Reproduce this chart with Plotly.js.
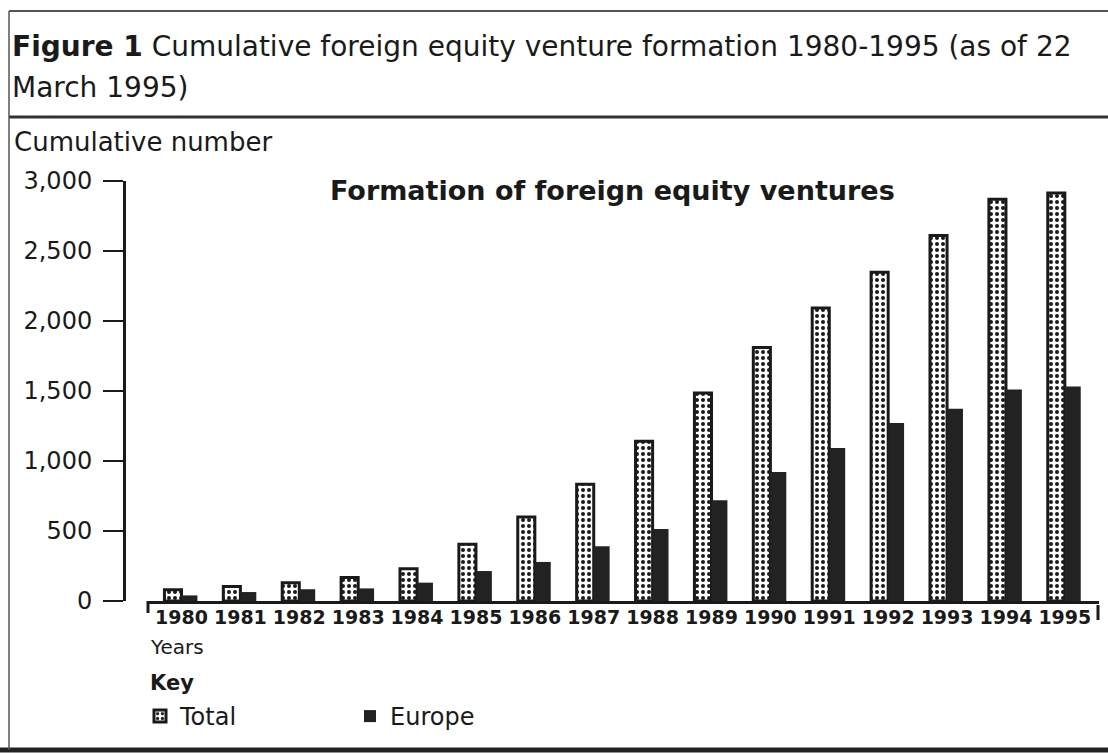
<!DOCTYPE html>
<html>
<head>
<meta charset="utf-8">
<script src="https://cdn.plot.ly/plotly-3.0.1.min.js"></script>
<style>
html,body{margin:0;padding:0;background:#fff;}
#chart{width:1108px;height:753px;}
</style>
</head>
<body>
<div id="chart"></div>
<script>
const years = ["1980","1981","1982","1983","1984","1985","1986","1987","1988","1989","1990","1991","1992","1993","1994","1995"];
const totalValues = [81, 104, 131, 167, 231, 405, 600, 834, 1141, 1486, 1810, 2093, 2348, 2610, 2869, 2914];
const europeValues = [40, 64, 84, 90, 131, 214, 279, 391, 514, 719, 921, 1093, 1271, 1374, 1510, 1533];
const yTicks = [0, 500, 1000, 1500, 2000, 2500, 3000];
const seriesNames = ["Total", "Europe"];

const W = 1108, H = 753;
const L = 124, R = 9, T = 181, B = 152;
const pw = W - L - R, ph = H - T - B;
const px = x => (x - L) / pw;
const py = y => (H - B - y) / ph;

const traces = [
  {
    type: 'bar', name: seriesNames[0], x: years, y: totalValues,
    offset: -0.29, width: 0.29,
    marker: {color: '#ffffff', line: {color: '#1a1a1a', width: 3},
             pattern: {shape: '.', fgcolor: '#1a1a1a', bgcolor: '#ffffff', size: 6, solidity: 0.35}},
    hoverinfo: 'x+y'
  },
  {
    type: 'bar', name: seriesNames[1], x: years, y: europeValues,
    offset: 0, width: 0.27,
    marker: {color: '#222222', line: {color: '#222222', width: 0}},
    hoverinfo: 'x+y'
  }
];

const fontMain = 'DejaVu Sans, Verdana, sans-serif';
const layout = {
  width: W, height: H,
  margin: {l: L, r: R, t: T, b: B, pad: 0},
  paper_bgcolor: '#ffffff', plot_bgcolor: '#ffffff',
  showlegend: true,
  barmode: 'overlay',
  legend: {
    orientation: 'h', x: px(140), xanchor: 'left', y: py(694), yanchor: 'top',
    entrywidth: 165, entrywidthmode: 'pixels',
    font: {family: fontMain, size: 24, color: '#1a1a1a'},
    bgcolor: 'rgba(0,0,0,0)', itemclick: false
  },
  xaxis: {
    type: 'category', domain: [px(148), 1], range: [-0.569, 15.58],
    showline: true, linecolor: '#1a1a1a', linewidth: 3,
    ticks: '', showgrid: false, zeroline: false, tickangle: 0,
    tickfont: {family: fontMain, size: 19, color: '#1a1a1a', weight: 'bold'},
    ticklabelstandoff: -3
  },
  yaxis: {
    anchor: 'free', position: 0, range: [0, 3000],
    tickvals: yTicks, tickformat: ',d',
    showline: true, linecolor: '#1a1a1a', linewidth: 3,
    ticks: 'outside', ticklen: 20, tickwidth: 2, tickcolor: '#1a1a1a',
    showgrid: false, zeroline: false,
    tickfont: {family: fontMain, size: 24, color: '#1a1a1a'},
    ticklabelstandoff: 6
  },
  annotations: [
    {xref: 'paper', yref: 'paper', x: px(10), y: py(46), xanchor: 'left', yanchor: 'middle', showarrow: false,
     text: '<b>Figure 1</b> Cumulative foreign equity venture formation 1980-1995 (as of 22',
     font: {family: fontMain, size: 28, color: '#1a1a1a'}},
    {xref: 'paper', yref: 'paper', x: px(10), y: py(88), xanchor: 'left', yanchor: 'middle', showarrow: false,
     text: 'March 1995)',
     font: {family: fontMain, size: 28, color: '#1a1a1a'}},
    {xref: 'paper', yref: 'paper', x: px(12), y: py(142), xanchor: 'left', yanchor: 'middle', showarrow: false,
     text: 'Cumulative number',
     font: {family: fontMain, size: 26, color: '#1a1a1a'}},
    {xref: 'paper', yref: 'paper', x: px(612), y: py(190), xanchor: 'center', yanchor: 'middle', showarrow: false,
     text: '<b>Formation of foreign equity ventures</b>',
     font: {family: fontMain, size: 27, color: '#1a1a1a'}},
    {xref: 'paper', yref: 'paper', x: px(148), y: py(647), xanchor: 'left', yanchor: 'middle', showarrow: false,
     text: 'Years',
     font: {family: fontMain, size: 20, color: '#1a1a1a'}},
    {xref: 'paper', yref: 'paper', x: px(148), y: py(683), xanchor: 'left', yanchor: 'middle', showarrow: false,
     text: '<b>Key</b>',
     font: {family: fontMain, size: 21, color: '#1a1a1a'}}
  ],
  shapes: [
    {type: 'line', xref: 'paper', yref: 'paper', x0: px(9), x1: px(1108), y0: py(11), y1: py(11), line: {color: '#555', width: 2}},
    {type: 'line', xref: 'paper', yref: 'paper', x0: px(9), x1: px(1108), y0: py(117), y1: py(117), line: {color: '#333', width: 3}},
    {type: 'line', xref: 'paper', yref: 'paper', x0: px(0), x1: px(1108), y0: py(750), y1: py(750), line: {color: '#222', width: 5}},
    {type: 'line', xref: 'paper', yref: 'paper', x0: px(9), x1: px(9), y0: py(11), y1: py(750), line: {color: '#555', width: 1.5}},
    {type: 'line', xref: 'paper', yref: 'paper', x0: px(148), x1: px(148), y0: py(601), y1: py(613), line: {color: '#1a1a1a', width: 3}},
    {type: 'line', xref: 'paper', yref: 'paper', x0: px(1098), x1: px(1098), y0: py(605), y1: py(620), line: {color: '#1a1a1a', width: 3}}
  ]
};

Plotly.newPlot('chart', traces, layout, {displayModeBar: false, staticPlot: true});
</script>
</body>
</html>
